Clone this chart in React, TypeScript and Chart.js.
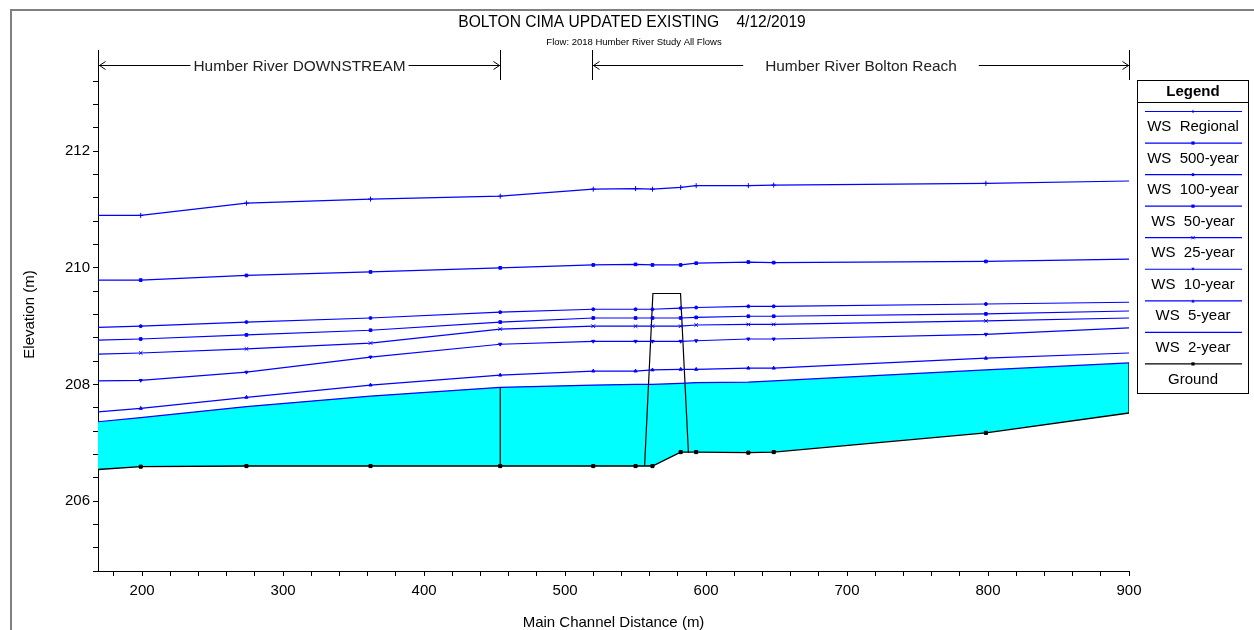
import { useEffect, useRef } from 'react';
import { Chart, registerables } from 'chart.js';

Chart.register(...registerables);

// ---------- data ----------
const STATIONS = [168.7, 199, 274, 362, 454, 520, 550, 562, 582, 593, 630, 648, 798.5, 900];

const WS_REGIONAL = [210.9, 210.9, 211.11, 211.18, 211.23, 211.35, 211.36, 211.35, 211.38, 211.41, 211.41, 211.42, 211.45, 211.49];
const WS_500 = [209.79, 209.79, 209.87, 209.93, 210.0, 210.05, 210.06, 210.05, 210.05, 210.08, 210.1, 210.09, 210.11, 210.15];
const WS_100 = [208.98, 209.0, 209.07, 209.14, 209.24, 209.29, 209.29, 209.29, 209.31, 209.32, 209.34, 209.34, 209.38, 209.41];
const WS_50 = [208.76, 208.78, 208.85, 208.93, 209.07, 209.14, 209.14, 209.14, 209.14, 209.15, 209.17, 209.17, 209.21, 209.26];
const WS_25 = [208.52, 208.54, 208.61, 208.71, 208.95, 209.0, 209.0, 209.0, 209.0, 209.02, 209.03, 209.03, 209.09, 209.14];
const WS_10 = [208.06, 208.07, 208.21, 208.47, 208.69, 208.74, 208.74, 208.74, 208.74, 208.75, 208.78, 208.78, 208.86, 208.97];
const WS_5 = [207.53, 207.59, 207.78, 207.99, 208.16, 208.23, 208.23, 208.25, 208.26, 208.26, 208.28, 208.28, 208.45, 208.54];
const WS_2 = [207.36, 207.43, 207.62, 207.8, 207.95, 207.99, 208.0, 208.0, 208.02, 208.03, 208.04, 208.06, 208.25, 208.37];
const GROUND = [206.54, 206.59, 206.6, 206.6, 206.6, 206.6, 206.6, 206.6, 206.84, 206.84, 206.83, 206.84, 207.17, 207.51];

const BRIDGE_X = [556.4, 562.3, 581.9, 587.5];
const BRIDGE_Y = [206.6, 209.56, 209.56, 206.83];

const JUNCTION_INDEX = 4; // station 454 (reach junction)
const END_INDEX = 13; // station 900

const SERIES_LABELS = ['WS  Regional', 'WS  500-year', 'WS  100-year', 'WS  50-year', 'WS  25-year', 'WS  10-year', 'WS  5-year', 'WS  2-year', 'Ground'];
const SERIES_VALUES = [WS_REGIONAL, WS_500, WS_100, WS_50, WS_25, WS_10, WS_5, WS_2, GROUND];
const SERIES_MARKERS = ['cross', 'rect', 'circle', 'rect', 'crossRot', 'triangleDown', 'triangle', 'none', 'rect'];

const REACH_NAMES = ['Humber River DOWNSTREAM', 'Humber River Bolton Reach'];
const REACH_FROM = [168.7, 519];
const REACH_TO = [453.5, 900];

const X_MIN = 168.7;
const X_MAX = 900;
const X_LABELS = [200, 300, 400, 500, 600, 700, 800, 900];
const X_MINOR_STEP = 20;
const Y_MIN = 204.8;
const Y_MAX = 213.6;
const Y_LABELS = [206, 208, 210, 212];
const Y_MINOR_STEP = 0.4;

const TITLE = 'BOLTON CIMA UPDATED EXISTING\u00A0\u00A0\u00A0 4/12/2019';
const SUBTITLE = 'Flow: 2018 Humber River Study All Flows';

// ---------- styles ----------
const FONT = '"Liberation Sans", Arial, Helvetica, sans-serif';
const BLUE = '#0000ff';

function drawMarker(ctx: CanvasRenderingContext2D, style: string, x: number, y: number, r: number, color: string) {
  ctx.save();
  ctx.fillStyle = color;
  ctx.strokeStyle = color;
  ctx.lineWidth = 1;
  ctx.beginPath();
  switch (style) {
    case 'rect':
      ctx.fillRect(x - r, y - r, 2 * r, 2 * r);
      break;
    case 'circle':
      ctx.arc(x, y, r, 0, Math.PI * 2);
      ctx.fill();
      break;
    case 'cross':
      ctx.moveTo(x - r, y); ctx.lineTo(x + r, y);
      ctx.moveTo(x, y - r); ctx.lineTo(x, y + r);
      ctx.stroke();
      break;
    case 'crossRot':
      ctx.moveTo(x - r, y - r); ctx.lineTo(x + r, y + r);
      ctx.moveTo(x - r, y + r); ctx.lineTo(x + r, y - r);
      ctx.stroke();
      break;
    case 'triangle':
      ctx.moveTo(x, y - r); ctx.lineTo(x + r, y + r); ctx.lineTo(x - r, y + r); ctx.closePath();
      ctx.fill();
      break;
    case 'triangleDown':
      ctx.moveTo(x, y + r); ctx.lineTo(x + r, y - r); ctx.lineTo(x - r, y - r); ctx.closePath();
      ctx.fill();
      break;
    default:
      break;
  }
  ctx.restore();
}

const decorPlugin = {
  id: 'decor',
  afterDraw(chart: any) {
    const ctx: CanvasRenderingContext2D = chart.ctx;
    const xs = chart.scales.x;
    ctx.save();

    // outer frame (left & top)
    ctx.strokeStyle = '#808080';
    ctx.lineWidth = 2;
    ctx.beginPath();
    ctx.moveTo(11, 630);
    ctx.lineTo(11, 10);
    ctx.lineTo(1254, 10);
    ctx.stroke();

    // titles
    ctx.fillStyle = '#000';
    ctx.textAlign = 'center';
    ctx.textBaseline = 'middle';
    ctx.font = `15.6px ${FONT}`;
    ctx.fillText(TITLE, 632, 23);
    ctx.font = `9.5px ${FONT}`;
    ctx.fillText(SUBTITLE, 634, 42);

    // reach annotations
    const gaps = [3, 22];
    const ay = 65;
    ctx.font = `15.4px ${FONT}`;
    ctx.strokeStyle = '#000';
    ctx.lineWidth = 1;
    REACH_NAMES.forEach((name, i) => {
      const x1 = Math.round(xs.getPixelForValue(REACH_FROM[i])) + 0.5;
      const x2 = Math.round(xs.getPixelForValue(REACH_TO[i])) + 0.5;
      const cx = (x1 + x2) / 2;
      const tw = ctx.measureText(name).width;
      ctx.beginPath();
      ctx.moveTo(x1, 50); ctx.lineTo(x1, 80);
      ctx.moveTo(x2, 50); ctx.lineTo(x2, 80);
      ctx.moveTo(x1, ay + 0.5); ctx.lineTo(cx - tw / 2 - gaps[i], ay + 0.5);
      ctx.moveTo(cx + tw / 2 + gaps[i], ay + 0.5); ctx.lineTo(x2, ay + 0.5);
      // arrow heads
      ctx.moveTo(x1 + 7, ay - 3.5); ctx.lineTo(x1 + 1, ay + 0.5); ctx.lineTo(x1 + 7, ay + 4.5);
      ctx.moveTo(x2 - 7, ay - 3.5); ctx.lineTo(x2 - 1, ay + 0.5); ctx.lineTo(x2 - 7, ay + 4.5);
      ctx.stroke();
      ctx.fillStyle = '#222';
      ctx.fillText(name, cx, ay + 1.5);
    });

    // legend
    const lx = 1137.5, ly = 80.5, lw = 111, lh = 313;
    ctx.fillStyle = '#fff';
    ctx.fillRect(lx, ly, lw, lh);
    ctx.strokeStyle = '#000';
    ctx.lineWidth = 1;
    ctx.strokeRect(lx, ly, lw, lh);
    ctx.beginPath();
    ctx.moveTo(lx, 102.5); ctx.lineTo(lx + lw, 102.5);
    ctx.stroke();
    ctx.fillStyle = '#000';
    ctx.font = `bold 15px ${FONT}`;
    ctx.fillText('Legend', 1193, 92);
    ctx.font = `15px ${FONT}`;
    SERIES_LABELS.forEach((label, i) => {
      const lineY = 111.5 + i * 31.55;
      const color = i === SERIES_LABELS.length - 1 ? '#000' : BLUE;
      ctx.strokeStyle = color;
      ctx.lineWidth = 1.2;
      ctx.beginPath();
      ctx.moveTo(1145, lineY); ctx.lineTo(1242, lineY);
      ctx.stroke();
      drawMarker(ctx, SERIES_MARKERS[i], 1193, lineY, 1.6, color);
      ctx.fillStyle = '#000';
      ctx.fillText(label, 1193, lineY + 15.5);
    });

    ctx.restore();
  },
};

function pts(values: number[]) {
  return STATIONS.map((x, i) => ({ x, y: values[i] }));
}

export default function App() {
  const canvasRef = useRef<HTMLCanvasElement | null>(null);

  useEffect(() => {
    if (!canvasRef.current) return;
    const last = STATIONS.length - 1;

    const seriesDatasets = SERIES_VALUES.map((vals, i) => {
      const isGround = i === SERIES_VALUES.length - 1;
      const color = isGround ? '#000' : BLUE;
      const marker = SERIES_MARKERS[i];
      const style = marker === 'triangleDown' ? 'triangle' : marker;
      const r = marker === 'cross' || marker === 'crossRot' ? 2.5 : marker === 'circle' ? 1.5 : isGround ? 2.2 : 1.9;
      const ds: any = {
        label: SERIES_LABELS[i],
        data: pts(vals),
        borderColor: color,
        backgroundColor: color,
        borderWidth: isGround ? 1.4 : 1.2,
        pointStyle: marker === 'none' ? false : style,
        pointRotation: marker === 'triangleDown' ? 180 : 0,
        pointBorderWidth: 1,
        pointRadius: (c: any) => (marker === 'none' || c.dataIndex === 0 || c.dataIndex === last ? 0 : r),
        pointBorderColor: color,
        pointBackgroundColor: color,
        tension: 0,
        fill: false,
      };
      if (SERIES_LABELS[i] === 'WS  2-year') {
        ds.fill = { target: SERIES_VALUES.length - 1 };
        ds.backgroundColor = '#00ffff';
      }
      return ds;
    });

    const lineOnly = (data: { x: number; y: number }[], label: string) => ({
      label,
      data,
      borderColor: '#000',
      borderWidth: 1.2,
      pointRadius: 0,
      fill: false,
      tension: 0,
    });

    const datasets: any[] = [
      ...seriesDatasets,
      lineOnly(BRIDGE_X.map((x, i) => ({ x, y: BRIDGE_Y[i] })), 'Bridge'),
      lineOnly(
        [
          { x: STATIONS[JUNCTION_INDEX], y: GROUND[JUNCTION_INDEX] },
          { x: STATIONS[JUNCTION_INDEX], y: WS_2[JUNCTION_INDEX] },
        ],
        'Junction'
      ),
      lineOnly(
        [
          { x: STATIONS[END_INDEX], y: GROUND[END_INDEX] },
          { x: STATIONS[END_INDEX], y: WS_2[END_INDEX] },
        ],
        'End'
      ),
    ];

    const xTicks: number[] = [];
    for (let v = 180; v <= X_MAX + 1e-6; v += X_MINOR_STEP) xTicks.push(Math.round(v));
    const yTicks: number[] = [];
    for (let k = 0; Y_MIN + k * Y_MINOR_STEP < Y_MAX - 0.2; k++) yTicks.push(Math.round((Y_MIN + k * Y_MINOR_STEP) * 10) / 10);

    const chart = new Chart(canvasRef.current, {
      type: 'line',
      data: { datasets },
      plugins: [decorPlugin],
      options: {
        animation: false,
        responsive: true,
        maintainAspectRatio: false,
        events: [],
        layout: { padding: { left: 0, right: 125, top: 58, bottom: 0 } },
        plugins: {
          legend: { display: false },
          tooltip: { enabled: false },
          title: { display: false },
          filler: { drawTime: 'beforeDatasetsDraw' },
        } as any,
        scales: {
          x: {
            type: 'linear',
            min: X_MIN,
            max: X_MAX,
            afterFit: (s: any) => { s.height = 59; },
            afterBuildTicks: (s: any) => { s.ticks = xTicks.map((value) => ({ value })); },
            grid: { display: true, drawOnChartArea: false, drawTicks: true, tickLength: 5, tickColor: '#000' },
            border: { display: true, color: '#000', width: 1 },
            ticks: {
              autoSkip: false,
              maxRotation: 0,
              padding: 6,
              color: '#000',
              font: { family: FONT, size: 15 },
              callback: (v: any) => (X_LABELS.includes(Math.round(Number(v))) && Math.abs(Number(v) - Math.round(Number(v))) < 1e-6 ? String(Math.round(Number(v))) : ''),
            },
            title: {
              display: true,
              text: 'Main Channel Distance (m)',
              color: '#000',
              font: { family: FONT, size: 15 },
              padding: { top: 0, bottom: -2 },
            },
          },
          y: {
            type: 'linear',
            min: Y_MIN,
            max: Y_MAX,
            afterFit: (s: any) => { s.width = 98; },
            afterBuildTicks: (s: any) => { s.ticks = yTicks.map((value) => ({ value })); },
            grid: { display: true, drawOnChartArea: false, drawTicks: true, tickLength: 5, tickColor: '#000' },
            border: { display: true, color: '#000', width: 1 },
            ticks: {
              autoSkip: false,
              padding: 3,
              color: '#000',
              font: { family: FONT, size: 15 },
              callback: (v: any) => {
                const n = Number(v);
                const r = Math.round(n);
                return Math.abs(n - r) < 1e-6 && Y_LABELS.includes(r) ? String(r) : '';
              },
            },
            title: {
              display: true,
              text: 'Elevation (m)',
              color: '#000',
              font: { family: FONT, size: 15 },
              padding: { top: 21, bottom: 0 },
            },
          },
        },
      } as any,
    });

    return () => chart.destroy();
  }, []);

  return (
    <div style={{ position: 'fixed', left: 0, top: 0, width: 1254, height: 630, background: '#fff' }}>
      <canvas ref={canvasRef} />
    </div>
  );
}
